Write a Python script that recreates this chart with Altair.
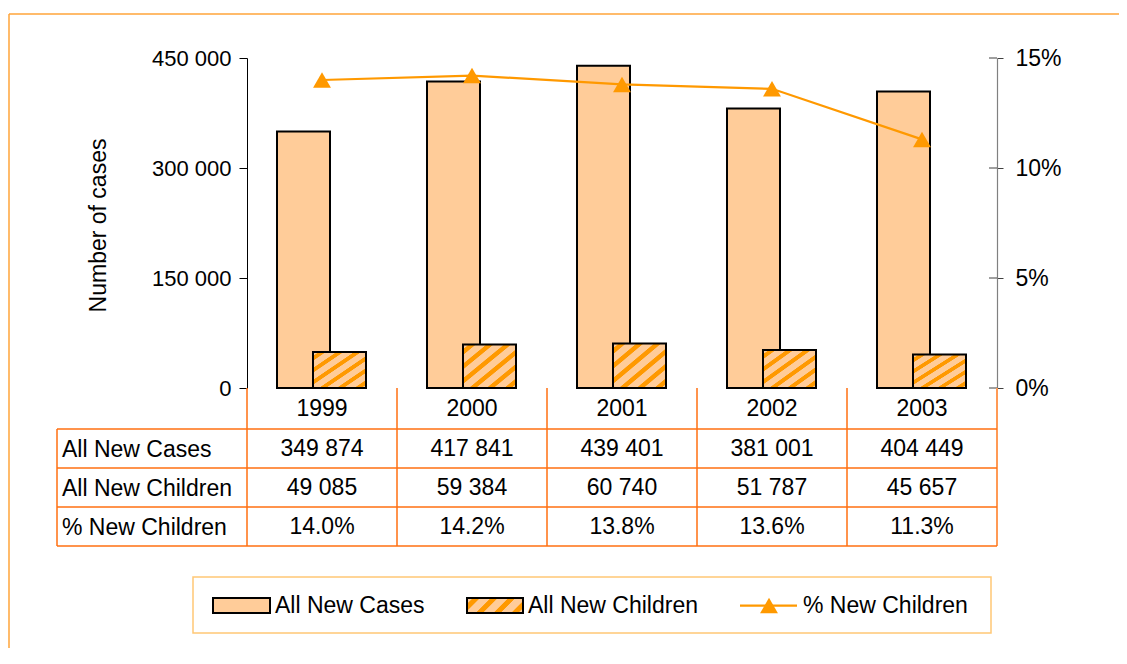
import altair as alt
import pandas as pd

# ---------------- data ----------------
years = ["1999", "2000", "2001", "2002", "2003"]
all_new_cases = [349874, 417841, 439401, 381001, 404449]
all_new_children = [49085, 59384, 60740, 51787, 45657]
pct_new_children = [14.0, 14.2, 13.8, 13.6, 11.3]
row_labels = ["All New Cases", "All New Children", "% New Children"]
left_ticks = [0, 150000, 300000, 450000]
right_ticks = [0, 0.05, 0.10, 0.15]
legend_labels = ["All New Cases", "All New Children", "% New Children"]


def spaced(v):
    return f"{v:,}".replace(",", " ")


df = pd.DataFrame({
    "year": years,
    "cases": all_new_cases,
    "children": all_new_children,
    "pct": [p / 100 for p in pct_new_children],
    "cases_txt": [spaced(v) for v in all_new_cases],
    "children_txt": [spaced(v) for v in all_new_children],
    "pct_txt": [f"{p:.1f}%" for p in pct_new_children],
})

# ---------------- style ----------------
FONT = "Liberation Sans"
FS = 23
FS_LEFT = 22
PEACH = "#FFCC99"
ORANGE = "#FF9900"
TABLE = "#FF6F10"
LEGEND_BORDER = "#FFC875"
OUTER = "#FFA53A"
W, H = 750, 330


def stripes(n, x2, y2):
    stops = []
    for k in range(n):
        a = k / n
        stops += [
            {"offset": a, "color": PEACH},
            {"offset": a + 0.30 / n, "color": PEACH},
            {"offset": a + 0.36 / n, "color": ORANGE},
            {"offset": a + 0.70 / n, "color": ORANGE},
            {"offset": a + 0.76 / n, "color": PEACH},
        ]
    stops.append({"offset": 1, "color": PEACH})
    return {"gradient": "linear", "x1": 0, "y1": 0, "x2": x2, "y2": y2, "stops": stops}


one = pd.DataFrame({"k": [0]})

x_scale = alt.Scale(type="band", domain=years, paddingInner=0, paddingOuter=0)
x_enc = alt.X("year:N", scale=x_scale,
              axis=alt.Axis(labels=False, ticks=False, title=None, grid=False,
                            domainColor=TABLE, domainWidth=1.5))

y_left = alt.Y(
    "cases:Q",
    scale=alt.Scale(domain=[0, 450000], nice=False, zero=True),
    axis=alt.Axis(orient="left", values=left_ticks,
                  labelExpr="replace(format(datum.value, ','), ',', ' ')",
                  labelFont=FONT, labelFontSize=FS_LEFT, labelColor="black",
                  labelPadding=8, tickColor="black", tickSize=8,
                  domainColor="black", domainWidth=1, grid=False,
                  title="Number of cases", titleFont=FONT, titleFontSize=FS,
                  titleFontWeight="normal", titleColor="black",
                  titleAngle=-90, titleX=-149, titleY=167,
                  titleAlign="center", titleBaseline="middle"),
)

cases_bar = alt.Chart(df).mark_bar(
    size=53, xOffset=-18.5, fill=PEACH, stroke="black", strokeWidth=2
).encode(x=x_enc, y=y_left)

children_bar = alt.Chart(df).mark_bar(
    size=53, xOffset=17.5, fill=stripes(6, 1, 1), stroke="black", strokeWidth=2
).encode(x=x_enc, y=alt.Y("children:Q"))

left = alt.layer(cases_bar, children_bar)

y_right = alt.Y(
    "pct:Q",
    scale=alt.Scale(domain=[0, 0.15], nice=False, zero=True),
    axis=alt.Axis(orient="right", values=right_ticks, format=".0%",
                  labelFont=FONT, labelFontSize=FS, labelColor="black",
                  labelPadding=12, tickColor="#404040", tickSize=6,
                  domainColor="#808080", domainWidth=1.2, grid=False, title=None),
)

pct_line = alt.Chart(df).mark_line(color=ORANGE, strokeWidth=2.25).encode(x=x_enc, y=y_right)
pct_pts = alt.Chart(df).mark_point(
    shape="triangle-up", filled=True, size=320, color=ORANGE, opacity=1
).encode(x=x_enc, y=y_right)
inner_ticks = alt.Chart(pd.DataFrame({"pct": right_ticks})).mark_rule(
    color="#404040", strokeWidth=1
).encode(y=y_right, x=alt.value(W - 8), x2=alt.value(W))

right = alt.layer(pct_line, pct_pts, inner_ticks)

# ---------------- data table ----------------
deco = []
deco.append(alt.Chart(df).mark_rule(color=TABLE, strokeWidth=1.5).encode(
    x=alt.X("year:N", scale=x_scale, bandPosition=0, axis=None),
    y=alt.value(H), y2=alt.value(488)))
deco.append(alt.Chart(one).mark_rule(color="#FF9A55", strokeWidth=2).encode(
    x=alt.value(W), y=alt.value(H), y2=alt.value(488)))
deco.append(alt.Chart(one).mark_rule(color=TABLE, strokeWidth=1.5).encode(
    x=alt.value(-190), y=alt.value(371), y2=alt.value(488)))
for yy in [371, 410, 449, 488]:
    deco.append(alt.Chart(one).mark_rule(color=TABLE, strokeWidth=1.5).encode(
        x=alt.value(-190), x2=alt.value(W), y=alt.value(yy)))

txt = dict(font=FONT, fontSize=FS, color="black", baseline="middle", align="center")
deco.append(alt.Chart(df).mark_text(**txt).encode(x=x_enc, y=alt.value(351), text="year:N"))
deco.append(alt.Chart(df).mark_text(**txt).encode(x=x_enc, y=alt.value(391), text="cases_txt:N"))
deco.append(alt.Chart(df).mark_text(**txt).encode(x=x_enc, y=alt.value(430), text="children_txt:N"))
deco.append(alt.Chart(df).mark_text(**txt).encode(x=x_enc, y=alt.value(469), text="pct_txt:N"))

ltxt = dict(font=FONT, fontSize=FS, color="black", baseline="middle", align="left")
for lbl, yy in zip(row_labels, [392, 431, 470]):
    deco.append(alt.Chart(pd.DataFrame({"label": [lbl]})).mark_text(**ltxt).encode(
        x=alt.value(-185), y=alt.value(yy), text="label:N"))

# ---------------- legend ----------------
deco.append(alt.Chart(one).mark_rect(fill="white", stroke=LEGEND_BORDER, strokeWidth=1.5).encode(
    x=alt.value(-54), x2=alt.value(744), y=alt.value(519), y2=alt.value(575)))
deco.append(alt.Chart(one).mark_rect(fill=PEACH, stroke="black", strokeWidth=2).encode(
    x=alt.value(-34), x2=alt.value(23), y=alt.value(540), y2=alt.value(555)))
deco.append(alt.Chart(one).mark_rect(fill=stripes(4, 1.183, 0.317), stroke="black", strokeWidth=2).encode(
    x=alt.value(220), x2=alt.value(276), y=alt.value(540), y2=alt.value(555)))
deco.append(alt.Chart(one).mark_rule(color=ORANGE, strokeWidth=2.25).encode(
    x=alt.value(493), x2=alt.value(550), y=alt.value(547.5)))
deco.append(alt.Chart(one).mark_point(shape="triangle-up", filled=True, size=320, color=ORANGE, opacity=1).encode(
    x=alt.value(522), y=alt.value(547.5)))
for lbl, xx in zip(legend_labels, [28, 281, 556]):
    deco.append(alt.Chart(pd.DataFrame({"label": [lbl]})).mark_text(**ltxt).encode(
        x=alt.value(xx), y=alt.value(548), text="label:N"))

# ---------------- outer frame ----------------
deco.append(alt.Chart(one).mark_rule(color=OUTER, strokeWidth=1.5).encode(
    x=alt.value(-238), x2=alt.value(900), y=alt.value(-44)))
deco.append(alt.Chart(one).mark_rule(color=OUTER, strokeWidth=1.5).encode(
    x=alt.value(-238), y=alt.value(-44), y2=alt.value(620)))

chart = alt.layer(left, right, *deco).resolve_scale(y="independent").properties(
    width=W, height=H,
    autosize=alt.AutoSizeParams(type="none"),
    padding={"left": 239, "top": 50, "right": 122, "bottom": 260},
    background="white",
).configure_view(stroke=None)

chart.save("out.html", embed_options={"renderer": "svg", "actions": False})
